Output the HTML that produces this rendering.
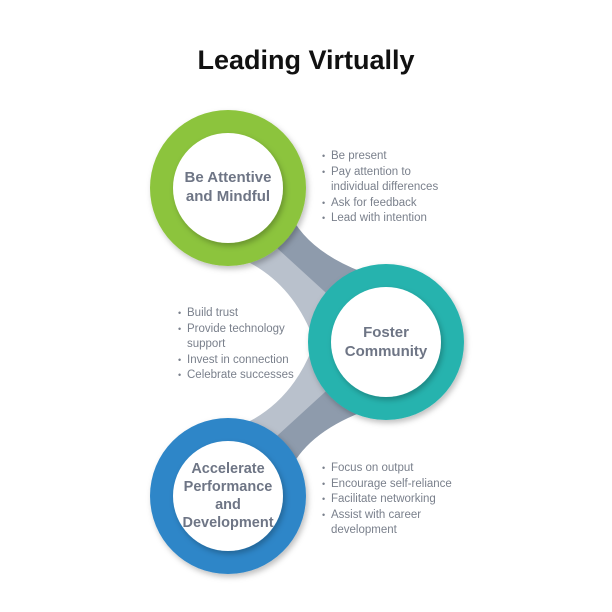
<!DOCTYPE html>
<html><head><style>
body{margin:0;width:612px;height:612px;background:#fff;overflow:hidden;font-family:"Liberation Sans",sans-serif}
.t{position:absolute;left:0;width:612px;top:45px;text-align:center;font-weight:bold;font-size:27px;color:#111}
.l{position:absolute;font-size:11.5px;line-height:15.5px;color:#7a808c;margin:0;padding:0;list-style:none}
.l li{position:relative;padding-left:9px}
.l li:before{content:"•";position:absolute;left:0;font-size:9px}
.c{position:absolute;text-align:center;font-weight:bold;color:#6e7585;font-size:15px;line-height:19px}
</style></head><body>
<svg width="612" height="612" style="position:absolute;left:0;top:0">
<defs><filter id="s" x="-20%" y="-20%" width="140%" height="140%"><feDropShadow dx="2" dy="3" stdDeviation="3" flood-color="#000" flood-opacity="0.25"/></filter></defs>
<path d="M240,258 Q290,280 312,335 L362,272 Q305,250 288,210 Z" fill="#b9c1cc"/>
<path d="M266,238 L336,302 L362,272 Q305,250 288,210 Z" fill="#8e9bac"/>
<path d="M240,426 Q290,404 312,349 L362,412 Q305,434 288,474 Z" fill="#b9c1cc"/>
<path d="M266,446 L336,382 L362,412 Q305,434 288,474 Z" fill="#8e9bac"/>
<circle cx="228" cy="188" r="78" fill="#8cc43c" filter="url(#s)"/>
<circle cx="228" cy="188" r="55" fill="#fff" filter="url(#s)"/>
<circle cx="386" cy="342" r="78" fill="#26b3ae" filter="url(#s)"/>
<circle cx="386" cy="342" r="55" fill="#fff" filter="url(#s)"/>
<circle cx="228" cy="496" r="78" fill="#2f86c8" filter="url(#s)"/>
<circle cx="228" cy="496" r="55" fill="#fff" filter="url(#s)"/>
</svg>
<div class="t">Leading Virtually</div>
<div class="c" style="left:168px;width:120px;top:168px">Be Attentive<br>and Mindful</div>
<div class="c" style="left:326px;width:120px;top:323px">Foster<br>Community</div>
<div class="c" style="left:163px;width:130px;top:460px;line-height:18px;font-size:14.5px">Accelerate<br>Performance<br>and<br>Development</div>
<ul class="l" style="left:322px;top:149px"><li>Be present</li><li>Pay attention to<br>individual differences</li><li>Ask for feedback</li><li>Lead with intention</li></ul>
<ul class="l" style="left:178px;top:306px"><li>Build trust</li><li>Provide technology<br>support</li><li>Invest in connection</li><li>Celebrate successes</li></ul>
<ul class="l" style="left:322px;top:461px"><li>Focus on output</li><li>Encourage self-reliance</li><li>Facilitate networking</li><li>Assist with career<br>development</li></ul>
</body></html>
